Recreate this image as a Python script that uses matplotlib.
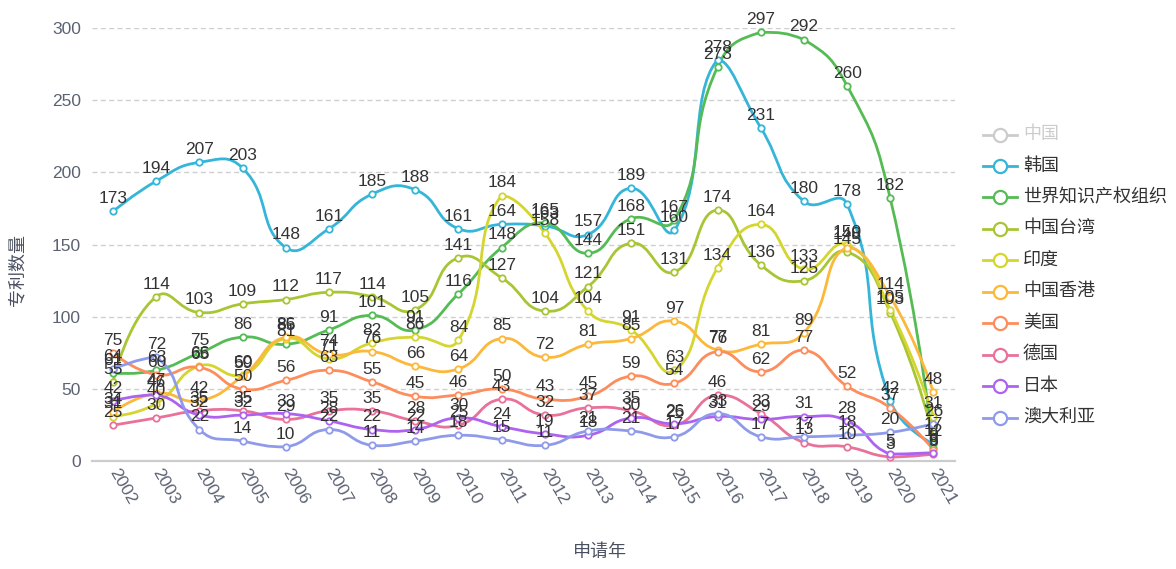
import matplotlib
matplotlib.use('Agg')
import matplotlib.pyplot as plt
import numpy as np
from matplotlib.path import Path
from matplotlib.patches import PathPatch
from matplotlib.lines import Line2D

plt.rcParams['font.family'] = ['Liberation Sans', 'Noto Sans CJK SC', 'DejaVu Sans']

# ---------------- data ----------------
years = [str(y) for y in range(2002, 2022)]
legend_names = ['中国', '韩国', '世界知识产权组织', '中国台湾', '印度', '中国香港',
                '美国', '德国', '日本', '澳大利亚']
hidden_series = ['中国']

korea = [173, 194, 207, 203, 148, 161, 185, 188, 161, 164, 163, 157, 189, 160, 278, 231, 180, 178, 42, 12]
wipo = [61, 63, 75, 86, 81, 91, 101, 91, 116, 148, 165, 144, 168, 167, 273, 297, 292, 260, 182, 9]
taiwan = [55, 114, 103, 109, 112, 117, 114, 105, 141, 127, 104, 121, 151, 131, 174, 136, 125, 145, 103, 17]
india = [31, 40, 66, 60, 85, 71, 82, 86, 84, 184, 158, 104, 91, 63, 134, 164, 133, 150, 105, 31]
hongkong = [34, 47, 42, 59, 86, 74, 76, 66, 64, 85, 72, 81, 85, 97, 77, 81, 89, 148, 114, 48]
usa = [75, 60, 65, 50, 56, 63, 55, 45, 46, 50, 43, 45, 59, 54, 76, 62, 77, 52, 37, 8]
germany = [25, 30, 35, 35, 29, 35, 35, 28, 25, 43, 32, 37, 35, 25, 46, 33, 13, 10, 3, 5]
japan = [42, 46, 32, 32, 33, 28, 22, 22, 30, 24, 19, 18, 30, 26, 31, 29, 31, 28, 5, 6]
australia = [64, 72, 22, 14, 10, 22, 11, 14, 18, 15, 11, 21, 21, 17, 33, 17, 17, 18, 20, 26]

series = {
    '韩国': korea,
    '世界知识产权组织': wipo,
    '中国台湾': taiwan,
    '印度': india,
    '中国香港': hongkong,
    '美国': usa,
    '德国': germany,
    '日本': japan,
    '澳大利亚': australia,
}
colors = {
    '中国': '#cccccc',
    '韩国': '#35b5d8',
    '世界知识产权组织': '#55bb55',
    '中国台湾': '#a8c634',
    '印度': '#d5d530',
    '中国香港': '#fbb83a',
    '美国': '#fd8d5c',
    '德国': '#e9719a',
    '日本': '#ad63f0',
    '澳大利亚': '#8f9bea',
}

W, H = 1176, 569
fig = plt.figure(figsize=(W / 100, H / 100), dpi=100)
x0, x1, ytop, ybot = 91.5, 955, 28, 461.3
ax = fig.add_axes([x0 / W, 1 - ybot / H, (x1 - x0) / W, (ybot - ytop) / H])
ax.set_xlim(-0.5, len(years) - 0.5)
ax.set_ylim(0, 300)
ax.set_yticks(range(0, 301, 50))
ax.set_xticks(range(len(years)))
ax.set_xticklabels(years)

for s in ['top', 'right', 'left']:
    ax.spines[s].set_visible(False)
ax.spines['bottom'].set_color('#cccccc')
ax.spines['bottom'].set_linewidth(1.6)
ax.yaxis.grid(True, color='#cfcfcf', linestyle=(0, (3.6, 2.4)), linewidth=1.0)
ax.set_axisbelow(True)
tick_col = '#5b6273'
ax.tick_params(axis='y', length=0, pad=7.5, labelsize=12.5, labelcolor=tick_col)
ax.tick_params(axis='x', length=0, pad=6, labelsize=12.5, labelcolor=tick_col)
for lab in ax.get_xticklabels():
    lab.set_rotation(-60)
    lab.set_ha('left')
    lab.set_va('center')
    lab.set_rotation_mode('anchor')


def smooth_path(ax, xs, ys, smooth=0.5):
    pts = ax.transData.transform(np.column_stack([xs, ys]).astype(float))
    n = len(pts)
    mn = pts.min(axis=0)
    mx = pts.max(axis=0)
    verts = [pts[0]]
    codes = [Path.MOVETO]
    cp0 = pts[0].copy()
    v = np.zeros(2)
    ratio = 0.5
    for i in range(1, n):
        p = pts[i]
        prev = pts[i - 1]
        if i == n - 1:
            cp1 = p.copy()
        else:
            nxt = pts[i + 1]
            v = nxt - prev
            lp = np.hypot(*(p - prev))
            ln = np.hypot(*(nxt - p))
            ratio = ln / (ln + lp) if (ln + lp) > 0 else 0.5
            cp1 = p - v * smooth * (1 - ratio)
        verts += [np.clip(cp0, mn, mx), np.clip(cp1, mn, mx), p]
        codes += [Path.CURVE4] * 3
        cp0 = p + v * smooth * ratio
    inv = ax.transData.inverted()
    return Path(inv.transform(np.array(verts)), codes)


xs = np.arange(len(years))
for name, vals in series.items():
    c = colors[name]
    path = smooth_path(ax, xs, vals)
    ax.add_patch(PathPatch(path, fill=False, edgecolor=c, lw=2.0, zorder=2,
                           capstyle='round', joinstyle='round', clip_on=False))
    ax.plot(xs, vals, linestyle='none', marker='o', ms=4.6, mfc='white', mec=c,
            mew=1.3, zorder=3, clip_on=False)

for name, vals in series.items():
    for i, v in enumerate(vals):
        ax.annotate(str(v), (i, v), xytext=(0, 5.8), textcoords='offset points',
                    ha='center', va='baseline', fontsize=12.5, color='#333333',
                    zorder=5, annotation_clip=False)

# legend (manual, ECharts-style vertical list)
for j, name in enumerate(legend_names):
    c = colors[name]
    yy = 1 - (134.5 + j * 31.45) / H
    fig.add_artist(Line2D([983 / W, 1017 / W], [yy, yy], color=c, lw=2.0,
                          transform=fig.transFigure))
    fig.add_artist(Line2D([1000 / W], [yy], marker='o', ms=9.5, mfc='white', mec=c,
                          mew=1.6, linestyle='none', transform=fig.transFigure))
    fig.text(1023 / W, yy, name, ha='left', va='center', fontsize=13,
             color=('#cccccc' if name in hidden_series else '#333333'))

title_col = '#4a5060'
fig.text(600 / W, 1 - 553 / H, '申请年', ha='center', va='center', fontsize=13, color=title_col)
fig.text(18 / W, 1 - 270 / H, '专利数量', ha='center', va='center', rotation=90,
         fontsize=13, color=title_col)

fig.savefig('out.png', dpi=100)
